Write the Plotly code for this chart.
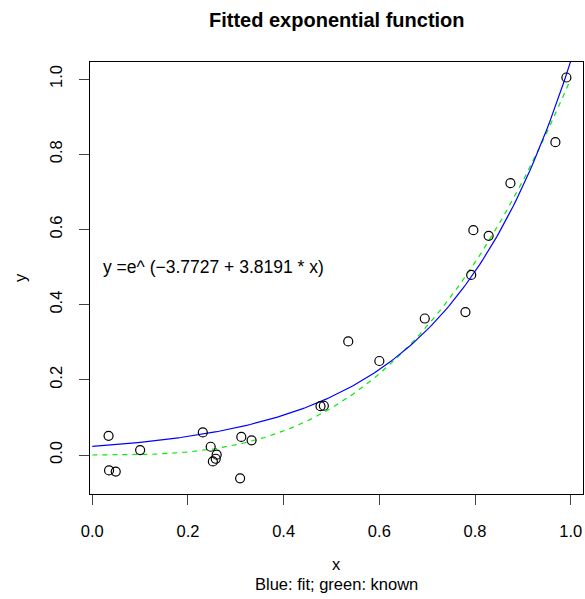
import numpy as np
import plotly.graph_objects as go

x_obs = [0.034, 0.035, 0.049, 0.100, 0.231, 0.2475, 0.252, 0.258, 0.260,
         0.309, 0.3115, 0.333, 0.477, 0.484, 0.535, 0.600, 0.695, 0.780,
         0.792, 0.7965, 0.8285, 0.874, 0.968, 0.991]
y_obs = [0.051, -0.041, -0.044, 0.013, 0.060, 0.022, -0.017, -0.010, 0.001,
         -0.062, 0.048, 0.039, 0.130, 0.131, 0.302, 0.250, 0.363, 0.380,
         0.479, 0.598, 0.583, 0.723, 0.832, 1.004]

# Fitted coefficients (from the chart label) and the known power
fit_a = -3.7727
fit_b = 3.8191
known_power = 3

x_ticks = [0.0, 0.2, 0.4, 0.6, 0.8, 1.0]
x_tick_labels = ["0.0", "0.2", "0.4", "0.6", "0.8", "1.0"]
y_ticks = [0.0, 0.2, 0.4, 0.6, 0.8, 1.0]
y_tick_labels = ["0.0", "0.2", "0.4", "0.6", "0.8", "1.0"]

title_text = "Fitted exponential function"
formula_text = "y =e^ (\u22123.7727 + 3.8191 * x)"
x_label = "x"
y_label = "y"
sub_label = "Blue: fit; green: known"

xs = np.linspace(0, 1, 201)
y_fit = np.exp(fit_a + fit_b * xs)
y_known = xs ** known_power

FONT = "Liberation Sans, Arial, Helvetica, sans-serif"
FS = 16.5
PLOT_H = 432.0
PLOT_W = 493.0

fig = go.Figure()
fig.add_trace(go.Scatter(x=xs, y=y_known, mode="lines",
                         line=dict(color="#00ee00", width=1.2, dash="5px,5px"),
                         hoverinfo="skip", showlegend=False))
fig.add_trace(go.Scatter(x=xs, y=y_fit, mode="lines",
                         line=dict(color="#0000ff", width=1.2),
                         hoverinfo="skip", showlegend=False))
fig.add_trace(go.Scatter(x=x_obs, y=y_obs, mode="markers",
                         marker=dict(symbol="circle-open", size=9,
                                     color="black", line=dict(width=1.2, color="black")),
                         showlegend=False))

axis_common = dict(showgrid=False, zeroline=False, showline=True, mirror=True,
                   linecolor="black", linewidth=1, ticks="outside", ticklen=10,
                   tickcolor="#444444", tickwidth=1,
                   tickfont=dict(family=FONT, size=FS, color="black"))

fig.update_layout(
    width=585, height=599,
    margin=dict(l=90, r=2, t=62, b=105),
    paper_bgcolor="white", plot_bgcolor="white",
    font=dict(family=FONT, size=FS, color="black"),
    xaxis=dict(range=[-0.0048, 1.0257], tickvals=x_ticks, ticktext=x_tick_labels,
               ticklabelstandoff=12, **axis_common),
    yaxis=dict(range=[-0.1037, 1.0452], tickvals=y_ticks, ticktext=y_tick_labels,
               tickangle=-90, ticklabelstandoff=10, **axis_common),
    annotations=[
        dict(text="<b>" + title_text + "</b>", x=0.5, y=1 + 42 / PLOT_H,
             xref="paper", yref="paper", showarrow=False,
             xanchor="center", yanchor="middle",
             font=dict(family=FONT, size=20, color="black")),
        dict(text=formula_text, x=0.254, y=0.5, xref="x", yref="y",
             showarrow=False, xanchor="center", yanchor="middle",
             font=dict(family=FONT, size=17.5, color="black")),
        dict(text=x_label, x=0.5, y=-70 / PLOT_H, xref="paper", yref="paper",
             showarrow=False, xanchor="center", yanchor="middle",
             font=dict(family=FONT, size=FS, color="black")),
        dict(text=sub_label, x=0.5, y=-90 / PLOT_H, xref="paper", yref="paper",
             showarrow=False, xanchor="center", yanchor="middle",
             font=dict(family=FONT, size=FS, color="black")),
        dict(text=y_label, x=-70 / PLOT_W, y=0.5, xref="paper", yref="paper",
             showarrow=False, xanchor="center", yanchor="middle", textangle=-90,
             font=dict(family=FONT, size=FS, color="black")),
    ],
)

fig.write_html("out.html")
